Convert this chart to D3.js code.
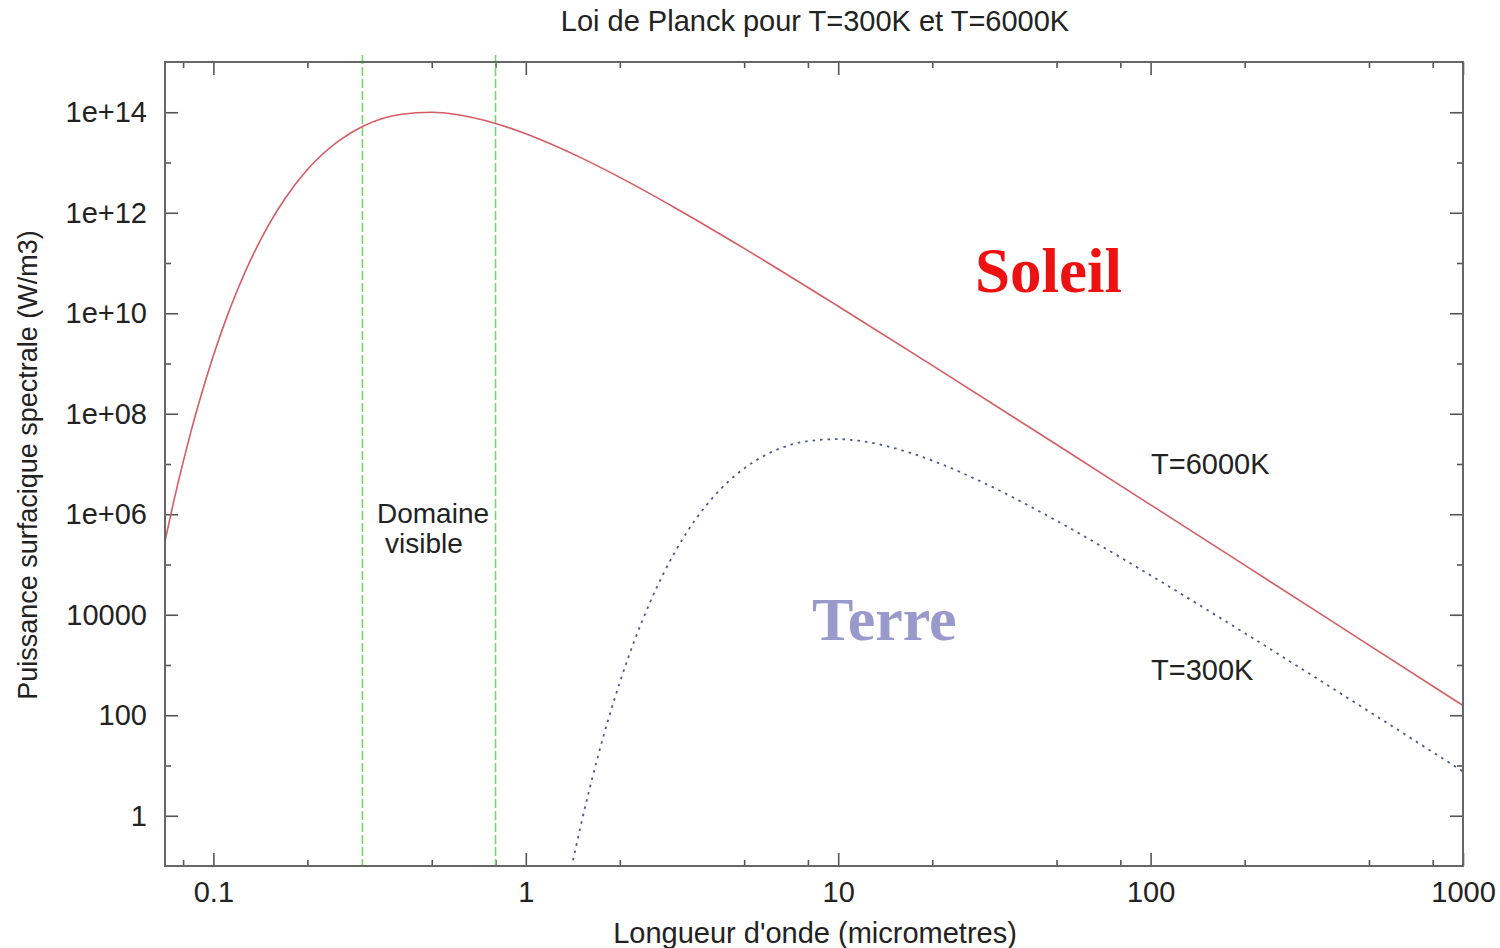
<!DOCTYPE html>
<html>
<head>
<meta charset="utf-8">
<script src="https://cdn.jsdelivr.net/npm/d3@7"></script>
<style>
  body { margin: 0; background: #fff; }
  svg text { font-family: "Liberation Sans", Arial, Helvetica, sans-serif; fill: #222; }
  .axis path { display: none; }
  .axis line { stroke: #555; stroke-width: 1.6px; }
</style>
</head>
<body>
<svg id="chart" width="1500" height="948"></svg>
<script>
// wavelengths (micrometres) and spectral exitance (W/m3)
var lambdaSun = [0.07, 0.075, 0.08, 0.085, 0.09, 0.1, 0.11, 0.12, 0.15, 0.17, 0.2, 0.25, 0.3, 0.4, 0.5, 0.6, 0.8, 1, 1.5, 2, 3, 5, 10, 20, 50, 100, 200, 500, 1000];
var powerSun  = [2.94e5, 2.05e6, 1.09e7, 4.72e7, 1.70e8, 1.44e9, 7.91e9, 3.15e10, 5.61e11, 1.97e12, 7.26e12, 2.61e13, 5.20e13, 9.12e13, 9.98e13, 9.02e13, 6.00e13, 3.74e13, 1.25e13, 5.05e12, 1.26e12, 1.95e11, 1.38e10, 9.18e8, 2.44e7, 1.54e6, 9.70e4, 2.49e3, 156];

var lambdaEarth = [1.4, 1.5, 1.6, 1.7, 2, 2.5, 3, 3.5, 4, 5, 6, 8, 10, 12, 15, 20, 30, 50, 100, 200, 500, 1000];
var powerEarth  = [0.0923, 0.64, 3.41, 14.8, 451, 1.79e4, 1.76e5, 7.98e5, 2.27e6, 8.17e6, 1.63e7, 2.85e7, 3.12e7, 2.82e7, 2.10e7, 1.17e7, 3.90e6, 7.43e5, 6.08e4, 4.32e3, 119, 7.62];

// visible band limits
var visibleBounds = [0.3, 0.8];

var xMajor = [0.1, 1, 10, 100, 1000];
var xMajorLabels = ["0.1", "1", "10", "100", "1000"];
var xMinor = [0.08, 0.2, 0.5, 0.8, 2, 5, 8, 20, 50, 80, 200, 500, 800];
var yMajor = [1, 1e2, 1e4, 1e6, 1e8, 1e10, 1e12, 1e14];
var yMajorLabels = ["1", "100", "10000", "1e+06", "1e+08", "1e+10", "1e+12", "1e+14"];
var yMinor = [10, 1e3, 1e5, 1e7, 1e9, 1e11, 1e13];

var margin = {top: 62, right: 37, bottom: 82, left: 165};
var width = 1500 - margin.left - margin.right,
    height = 948 - margin.top - margin.bottom;
var fs = 29;

var svg = d3.select("#chart");
var g = svg.append("g").attr("transform", "translate(" + margin.left + "," + margin.top + ")");

var x = d3.scaleLog().domain([0.07, 1000]).range([0, width]);
var y = d3.scaleLog().domain([0.1, 1e15]).range([height, 0]);

g.append("clipPath").attr("id", "plotclip")
  .append("rect").attr("width", width).attr("height", height);

// ticks, all pointing inward
function addAxis(gen, vals, size, tr, labels, pad) {
  var a = gen.tickValues(vals).tickSize(-size).tickSizeOuter(0).tickPadding(pad || 0)
    .tickFormat(function(d, i) { return labels ? labels[i] : ""; });
  var ax = g.append("g").attr("class", "axis").attr("transform", tr).call(a);
  ax.selectAll("text").attr("font-size", fs).style("fill", "#222");
  return ax;
}
addAxis(d3.axisBottom(x), xMajor, 13, "translate(0," + height + ")", xMajorLabels, 15);
addAxis(d3.axisBottom(x), xMinor, 6, "translate(0," + height + ")");
addAxis(d3.axisTop(x), xMajor, 13, "translate(0,0)");
addAxis(d3.axisTop(x), xMinor, 6, "translate(0,0)");
addAxis(d3.axisLeft(y), yMajor, 13, "translate(0,0)", yMajorLabels, 18);
addAxis(d3.axisLeft(y), yMinor, 6, "translate(0,0)");
addAxis(d3.axisRight(y), yMajor, 13, "translate(" + width + ",0)");
addAxis(d3.axisRight(y), yMinor, 6, "translate(" + width + ",0)");

// visible domain markers
g.selectAll(".vis").data(visibleBounds).enter().append("line")
  .attr("x1", function(d) { return x(d); }).attr("x2", function(d) { return x(d); })
  .attr("y1", -7).attr("y2", height)
  .attr("stroke", "#6ed86e").attr("stroke-width", 1.6)
  .attr("stroke-dasharray", "9,3");

var line = d3.line()
  .x(function(d) { return x(d[0]); })
  .y(function(d) { return y(d[1]); })
  .curve(d3.curveMonotoneX);

var plot = g.append("g").attr("clip-path", "url(#plotclip)");
plot.append("path")
  .datum(d3.zip(lambdaSun, powerSun))
  .attr("d", line).attr("fill", "none")
  .attr("stroke", "#d45c62").attr("stroke-width", 1.6);
plot.append("path")
  .datum(d3.zip(lambdaEarth, powerEarth))
  .attr("d", line).attr("fill", "none")
  .attr("stroke", "#505590").attr("stroke-width", 1.8)
  .attr("stroke-dasharray", "2.5,5");

// frame
g.append("rect").attr("width", width).attr("height", height)
  .attr("fill", "none").attr("stroke", "#666").attr("stroke-width", 2);

// labels
svg.append("text").attr("x", 815).attr("y", 31).attr("text-anchor", "middle")
  .attr("font-size", fs).text("Loi de Planck pour T=300K et T=6000K");
svg.append("text").attr("x", 815).attr("y", 943).attr("text-anchor", "middle")
  .attr("font-size", fs).text("Longueur d'onde (micrometres)");
svg.append("text").attr("transform", "translate(37,465) rotate(-90)").attr("text-anchor", "middle")
  .attr("font-size", 27).text("Puissance surfacique spectrale (W/m3)");

svg.append("text").attr("x", 377).attr("y", 523).attr("font-size", 28).text("Domaine");
svg.append("text").attr("x", 385).attr("y", 553).attr("font-size", 28).text("visible");
svg.append("text").attr("x", 1151).attr("y", 474).attr("font-size", fs).text("T=6000K");
svg.append("text").attr("x", 1151).attr("y", 680).attr("font-size", fs).text("T=300K");

svg.append("text").attr("x", 975).attr("y", 292).attr("font-size", 63)
  .attr("font-weight", "bold").style("font-family", "'Liberation Serif', 'Times New Roman', serif")
  .style("fill", "#ee1111").text("Soleil");
svg.append("text").attr("x", 812).attr("y", 640).attr("font-size", 62)
  .attr("font-weight", "bold").style("font-family", "'Liberation Serif', 'Times New Roman', serif")
  .style("fill", "#9999cc").text("Terre");
</script>
</body>
</html>
